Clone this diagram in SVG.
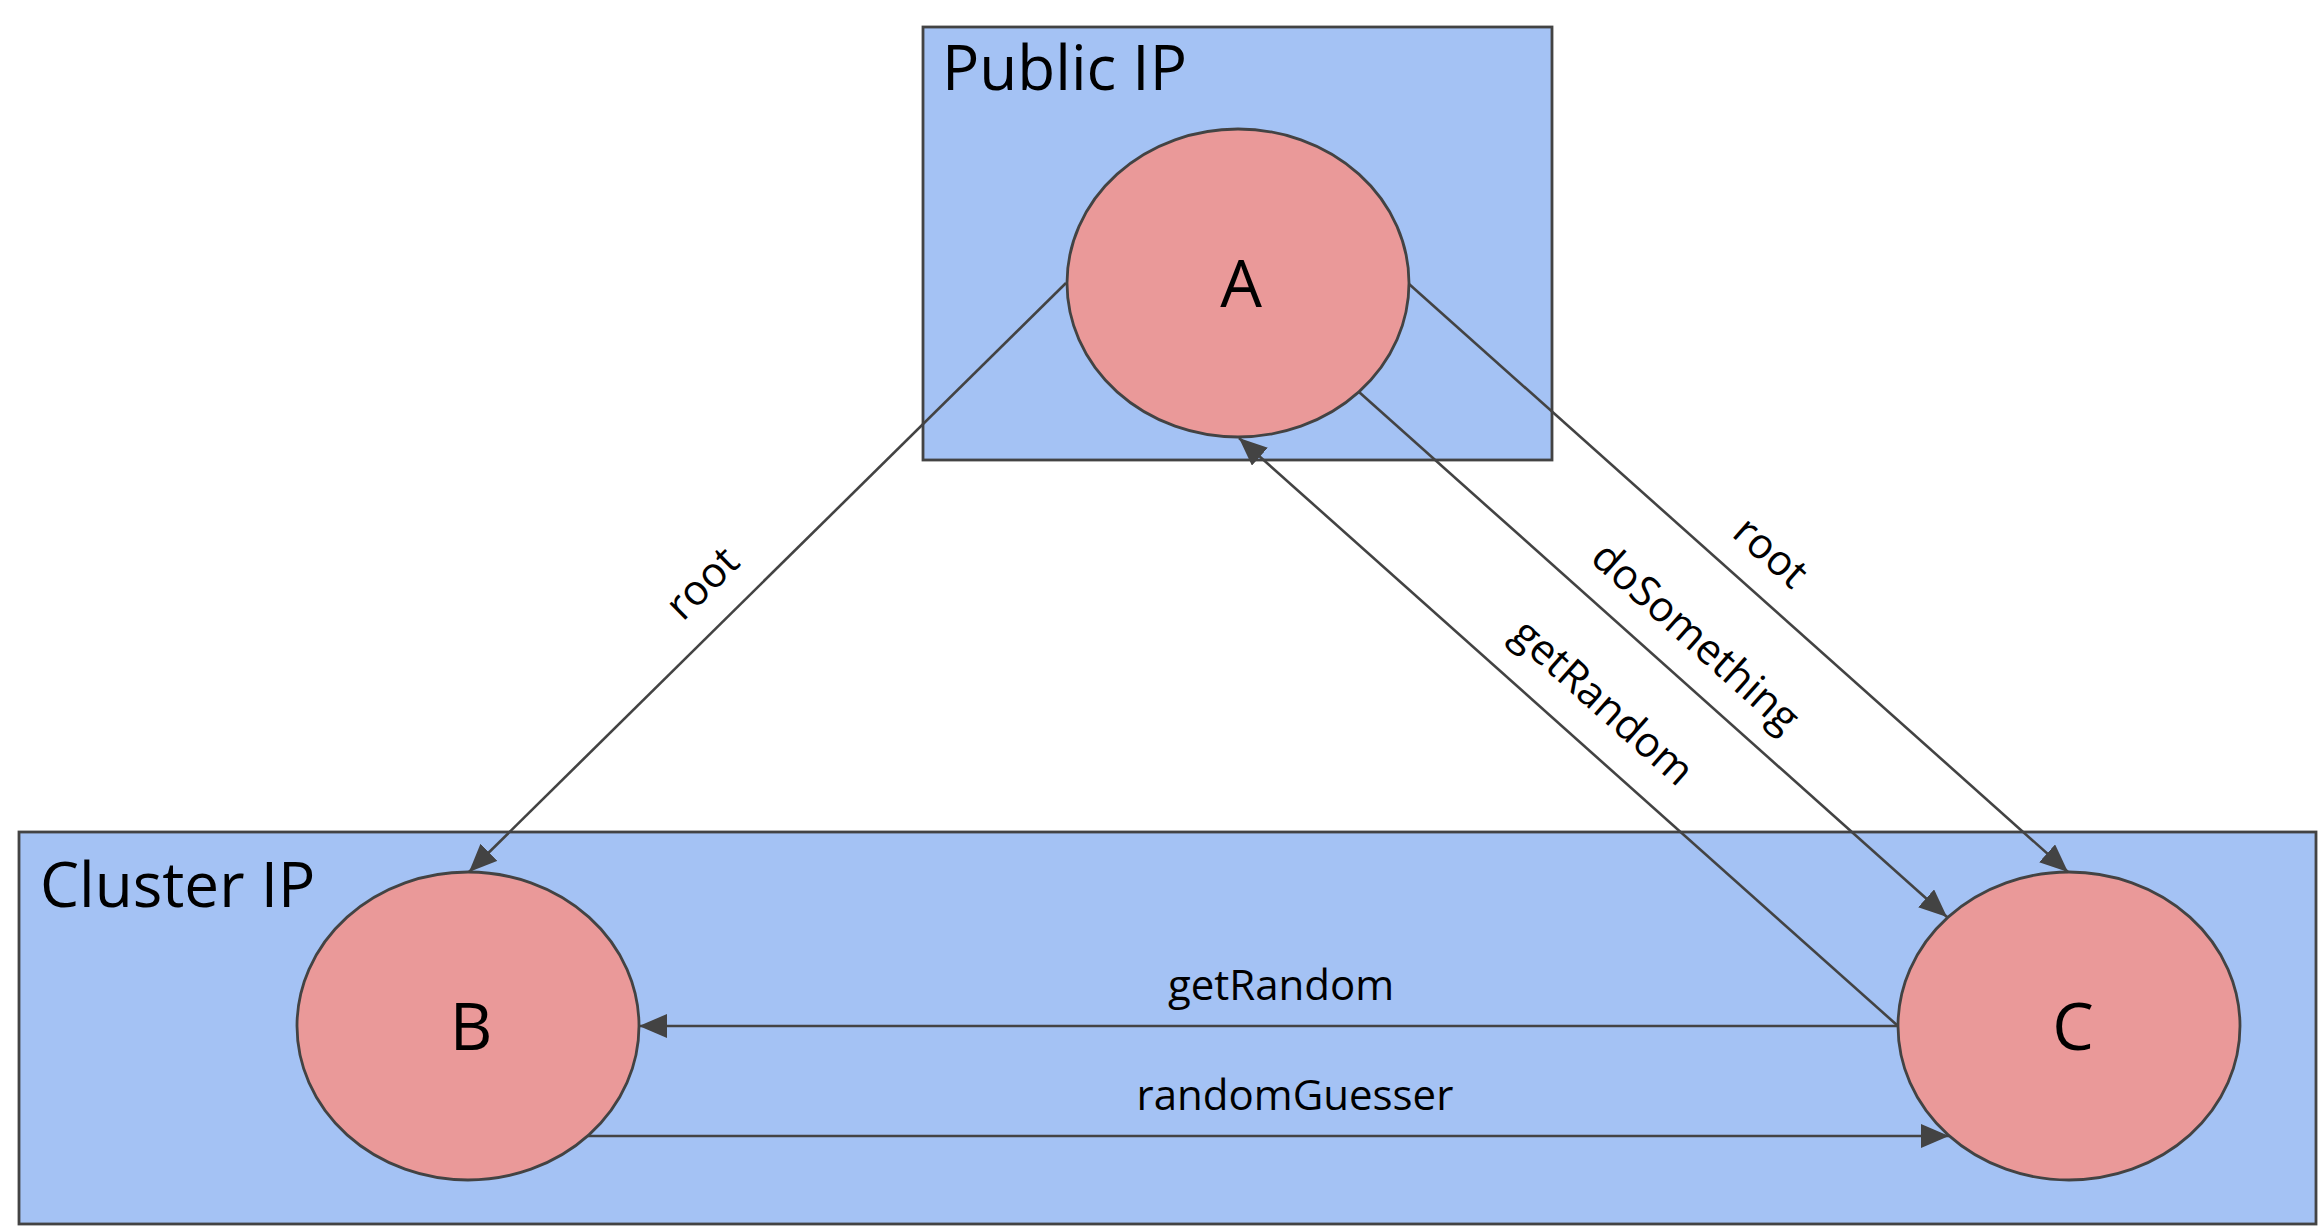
<svg xmlns="http://www.w3.org/2000/svg" width="2319" height="1227" viewBox="0 0 2319 1227">
<style>
.box{fill:#a4c2f4;stroke:#434343;stroke-width:2.8}
.node{fill:#ea9999;stroke:#434343;stroke-width:2.8}
.title{font-family:"Open Sans","Liberation Sans",sans-serif;font-size:62px;fill:#000}
.nl{font-family:"Open Sans","Liberation Sans",sans-serif;font-size:66px;fill:#000;text-anchor:middle}
.edge{stroke:#434343;stroke-width:2.6;fill:none;marker-end:url(#arr)}
.el{font-family:"Open Sans","Liberation Sans",sans-serif;font-size:42px;fill:#000;text-anchor:middle}
</style>
<defs>
<marker id="arr" markerUnits="userSpaceOnUse" markerWidth="30" markerHeight="26" refX="28" refY="12" orient="auto">
<path d="M0,0 L28,12 L0,24 z" fill="#434343"/>
</marker>
</defs>
<rect width="2319" height="1227" fill="#fff"/>
<g id="public-ip">
<rect class="box" x="923" y="27" width="629" height="433"/>
<text class="title" x="942" y="90">Public IP</text>
</g>
<g id="cluster-ip">
<rect class="box" x="19" y="832" width="2297" height="392"/>
<text class="title" x="40" y="907">Cluster IP</text>
</g>
<g id="node-a">
<ellipse class="node" cx="1238" cy="283" rx="171" ry="154"/>
<text class="nl" x="1241" y="307">A</text>
</g>
<g id="node-b">
<ellipse class="node" cx="468" cy="1026" rx="171" ry="154"/>
<text class="nl" x="471" y="1050">B</text>
</g>
<g id="node-c">
<ellipse class="node" cx="2069" cy="1026" rx="171" ry="154"/>
<text class="nl" x="2073" y="1050">C</text>
</g>
<g id="connectors">
<line class="edge" x1="1066" y1="283" x2="469" y2="872"/>
<line class="edge" x1="1409" y1="284" x2="2068" y2="872"/>
<line class="edge" x1="1359" y1="392" x2="1947" y2="917"/>
<line class="edge" x1="1898" y1="1026" x2="1239" y2="438"/>
<line class="edge" x1="1898" y1="1026" x2="639" y2="1026"/>
<line class="edge" x1="588" y1="1136" x2="1949" y2="1136"/>
<text class="el" transform="translate(703,584) rotate(-44.6)" y="13">root</text>
<text class="el" transform="translate(1770,553) rotate(41.7)" y="13">root</text>
<text class="el" transform="translate(1695,638) rotate(41.8)" y="13">doSomething</text>
<text class="el" transform="translate(1602,703) rotate(41.7)" y="13">getRandom</text>
<text class="el" x="1281" y="1000">getRandom</text>
<text class="el" x="1295" y="1110">randomGuesser</text>
</g>
</svg>
